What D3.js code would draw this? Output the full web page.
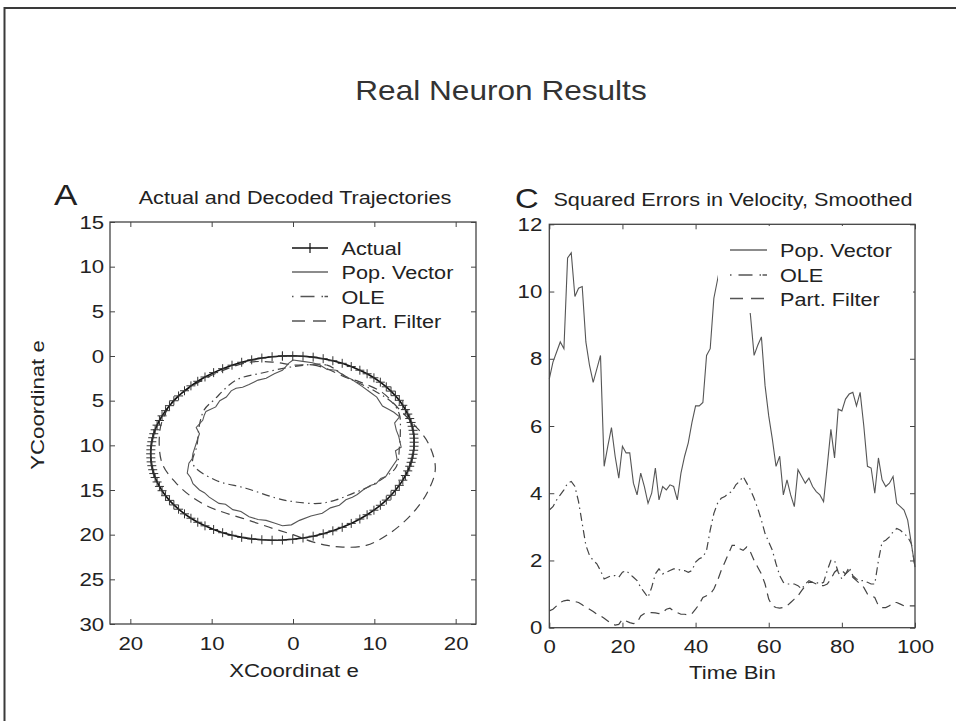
<!DOCTYPE html>
<html><head><meta charset="utf-8">
<script src="https://cdn.jsdelivr.net/npm/d3@7"></script>
<style>
body{margin:0;background:#fff}
svg{display:block}
text{font-family:"Liberation Sans",Arial,Helvetica,sans-serif;fill:#222}
</style>
</head><body>
<svg id="chart" width="956" height="721"></svg>
<script>
// ---------- DATA ----------
// Panel A: trajectories (x, y) — y axis runs downward from -15 to 30
const actualX = [-1.3,-0.03,1.23,2.48,3.71,4.90,6.05,7.16,8.22,9.11,9.95,10.74,11.47,12.05,12.59,13.07,13.50,13.82,14.11,14.35,14.52,14.65,14.76,14.84,14.88,
  14.9,14.88,14.84,14.76,14.65,14.52,14.35,14.11,13.82,13.50,13.07,12.59,12.05,11.47,10.74,9.95,9.11,8.22,7.16,6.05,4.90,3.71,2.48,1.23,-0.03,
  -1.3,-2.57,-3.83,-5.08,-6.31,-7.50,-8.65,-9.76,-10.82,-11.71,-12.55,-13.34,-14.07,-14.65,-15.19,-15.67,-16.10,-16.42,-16.71,-16.95,-17.12,-17.25,-17.36,-17.44,-17.48,
  -17.5,-17.48,-17.44,-17.36,-17.25,-17.12,-16.95,-16.71,-16.42,-16.10,-15.67,-15.19,-14.65,-14.07,-13.34,-12.55,-11.71,-10.82,-9.76,-8.65,-7.50,-6.31,-5.08,-3.83,-2.57,-1.3];
const actualY = [0.0,-0.02,0.03,0.13,0.30,0.53,0.82,1.18,1.59,1.99,2.44,2.93,3.45,3.93,4.44,4.96,5.52,6.00,6.50,7.00,7.44,7.87,8.32,8.75,9.20,
  9.65,10.10,10.55,11.00,11.45,11.90,12.34,12.86,13.38,13.90,14.48,15.04,15.59,16.13,16.71,17.26,17.77,18.25,18.74,19.18,19.57,19.90,20.17,20.37,20.52,
  20.6,20.62,20.57,20.47,20.30,20.07,19.78,19.42,19.01,18.61,18.16,17.67,17.15,16.67,16.16,15.64,15.08,14.60,14.10,13.60,13.16,12.73,12.28,11.85,11.40,
  10.95,10.50,10.05,9.60,9.15,8.70,8.26,7.74,7.22,6.70,6.12,5.56,5.01,4.47,3.89,3.34,2.83,2.35,1.86,1.42,1.03,0.70,0.43,0.23,0.08,0.0];

const popVecX = [0.0,1.2,2.4,3.3,4.2,5.3,6.4,7.2,8.5,9.4,10.3,11.0,11.8,12.4,13.1,12.5,12.7,13.0,13.3,12.6,12.8,12.2,11.9,11.4,10.8,10.2,9.5,8.6,7.9,7.3,6.5,5.7,4.6,3.6,2.2,0.8,-0.2,-1.3,-2.3,-3.3,-4.3,-5.4,-6.4,-7.4,-8.3,-9.1,-10.3,-10.9,-11.5,-12.3,-12.6,-13.0,-12.8,-12.4,-12.3,-11.9,-11.7,-11.5,-11.9,-11.1,-10.9,-10.7,-9.5,-9.0,-8.2,-7.6,-7.0,-6.2,-5.4,-4.3,-3.3,-2.3,-1.3,-0.5,0.0];
const popVecY = [0.45,0.6,0.75,1.0,1.5,1.6,2.3,2.6,3.4,4.0,4.6,5.6,6.0,6.3,6.8,7.5,8.3,9.0,10.2,10.6,11.6,12.4,12.8,13.5,13.7,14.3,14.5,15.0,15.5,15.8,16.1,16.7,17.0,17.6,17.9,18.4,18.9,19.0,18.7,18.4,18.3,18.0,17.4,17.2,16.6,16.5,15.8,15.3,15.0,14.3,13.6,13.1,12.0,11.5,10.9,9.8,9.2,8.7,8.0,7.2,6.6,6.2,5.7,5.0,4.6,3.9,3.6,3.5,3.2,2.7,2.5,2.0,1.6,0.8,0.45];

const oleX = [0.0,4.1,6.5,10.2,12.3,13.1,13.2,13.1,12.7,11.4,9.4,7.3,5.3,3.2,0.0,-2.1,-5.8,-9.5,-12.3,-11.8,-11.5,-10.9,-9.7,-7.0,-3.8];
const oleY = [1.2,1.0,2.3,4.0,5.3,6.6,8.3,10.0,12.4,13.5,14.6,15.4,16.1,16.5,16.3,15.9,14.8,13.9,12.1,10.0,7.7,6.0,4.9,2.7,1.9];

const pfX = [0.0,2.4,4.1,6.5,8.2,11.0,13.1,14.9,16.6,17.5,16.5,14.5,11.8,9.0,6.1,4.2,2.4,0.0,-2.5,-5.4,-8.2,-10.3,-12.4,-14.4,-16.1,-16.4,-15.8,-14.6,-12.1,-9.1,-5.4,-2.3];
const pfY = [1.0,1.0,1.4,2.4,2.9,4.1,6.0,7.7,9.7,12.6,15.3,17.8,19.9,21.2,21.4,21.2,20.8,20.0,19.3,18.4,17.6,16.9,15.8,14.2,12.0,8.6,6.6,4.9,3.2,1.8,0.7,0.7];

const xTicksA = [-20,-10,0,10,20];
const yTicksA = [-15,-10,-5,0,5,10,15,20,25,30];
const legendA = ["Actual","Pop. Vector","OLE","Part. Filter"];

// Panel C: squared errors per time bin 0..100
const popVecErr = [7.4,7.9,8.2,8.5,8.3,11.0,11.15,9.85,10.1,10.15,8.5,7.8,7.3,7.7,8.1,4.8,5.4,5.95,5.1,4.45,
  5.4,5.2,5.2,4.3,3.95,4.6,4.2,3.7,4.0,4.75,3.8,4.2,4.1,4.25,4.2,3.8,4.6,5.1,5.5,6.1,
  6.6,6.6,6.7,8.1,8.3,9.8,10.35,10.9,11.3,11.6,11.8,11.7,11.3,10.8,10.2,9.3,8.1,8.4,8.65,7.2,
  6.3,5.6,4.8,5.1,3.95,4.4,3.95,3.6,4.7,4.5,4.3,4.45,4.2,4.05,3.95,3.75,4.8,5.9,5.05,6.5,
  6.45,6.8,6.95,7.0,6.6,7.0,6.0,4.8,4.75,4.0,5.05,4.4,4.2,4.3,4.5,3.7,3.6,3.5,3.2,2.5,1.8];
const oleErr = [3.5,3.6,3.8,3.95,4.1,4.3,4.35,4.2,3.75,3.1,2.45,2.15,2.0,1.9,1.7,1.45,1.5,1.55,1.55,1.5,
  1.65,1.7,1.6,1.5,1.4,1.2,1.05,0.9,1.2,1.6,1.75,1.6,1.65,1.7,1.75,1.75,1.7,1.7,1.65,1.7,
  1.95,2.05,2.1,2.3,2.9,3.4,3.7,3.85,3.9,4.0,4.05,4.25,4.35,4.5,4.3,4.1,3.85,3.55,3.2,2.8,
  2.55,2.3,1.9,1.55,1.35,1.3,1.3,1.3,1.25,1.15,1.3,1.4,1.35,1.35,1.3,1.35,1.7,2.0,2.0,1.65,
  1.45,1.6,1.8,1.55,1.45,1.4,1.4,1.35,1.3,1.3,2.0,2.55,2.6,2.7,2.85,2.95,2.9,2.8,2.7,2.5,1.8];
const pfErr = [0.5,0.55,0.65,0.75,0.8,0.82,0.8,0.78,0.75,0.68,0.6,0.55,0.48,0.4,0.35,0.28,0.2,0.12,0.08,0.1,
  0.25,0.2,0.15,0.12,0.15,0.35,0.42,0.45,0.45,0.44,0.42,0.45,0.55,0.58,0.5,0.45,0.4,0.4,0.38,0.42,
  0.55,0.7,0.9,0.95,1.0,1.15,1.4,1.7,1.95,2.2,2.45,2.45,2.35,2.3,2.4,2.25,2.0,1.8,1.6,1.3,
  0.85,0.65,0.6,0.58,0.6,0.65,0.75,0.85,0.95,1.1,1.25,1.35,1.35,1.3,1.25,1.25,1.3,1.45,1.65,1.75,
  1.7,1.6,1.7,1.5,1.4,1.3,1.2,1.0,0.95,0.9,0.65,0.6,0.6,0.65,0.75,0.75,0.7,0.65,0.65,0.65,0.65];
const xTicksC = [0,20,40,60,80,100];
const yTicksC = [0,2,4,6,8,10,12];
const legendC = ["Pop. Vector","OLE","Part. Filter"];

// ---------- DRAW ----------
const svg = d3.select("#chart");
const SX = 1.17; // horizontal text stretch of the original figure
const INK = "#222", AX = "#444";
const DASH_OLE = "8,4,1.5,4", DASH_PF = "9,6";

function txt(x, y, s, size, anchor, rot) {
  return svg.append("text")
    .attr("transform", `translate(${x},${y})` + (rot ? ` rotate(${rot})` : "") + ` scale(${SX},1)`)
    .attr("text-anchor", anchor || "start")
    .style("font-size", size + "px")
    .text(s);
}

// outer frame (top and left edges only)
svg.append("path").attr("d", "M4.5,721V8H956").attr("fill", "none").attr("stroke", "#3a3a3a").attr("stroke-width", 2);

txt(501, 100, "Real Neuron Results", 27, "middle").style("fill", "#333");

function styleAxis(g) {
  g.select(".domain").remove();
  g.selectAll("line").attr("stroke", AX);
  g.selectAll("text").attr("transform", `scale(${SX},1)`).style("font-size", "19px")
    .style("font-family", '"Liberation Sans",Arial,sans-serif').attr("fill", INK);
}

// ===== Panel A =====
const xA = d3.scaleLinear().domain([-22.5, 22.5]).range([110, 476]);
const yA = d3.scaleLinear().domain([-15, 30]).range([222, 624]);
const fmtAbs = d => Math.abs(d);

svg.append("g").attr("transform", `translate(0,${yA.range()[1]})`)
  .call(d3.axisBottom(xA).tickValues(xTicksA).tickFormat(fmtAbs).tickSizeInner(-5).tickSizeOuter(0).tickPadding(13)).call(styleAxis);
svg.append("g").attr("transform", `translate(0,${yA.range()[0]})`)
  .call(d3.axisTop(xA).tickValues(xTicksA).tickFormat("").tickSizeInner(-5).tickSizeOuter(0)).call(styleAxis);
svg.append("g").attr("transform", `translate(${xA.range()[0]},0)`)
  .call(d3.axisLeft(yA).tickValues(yTicksA).tickFormat(fmtAbs).tickSizeInner(-5).tickSizeOuter(0).tickPadding(5)).call(styleAxis);
svg.append("g").attr("transform", `translate(${xA.range()[1]},0)`)
  .call(d3.axisRight(yA).tickValues(yTicksA).tickFormat("").tickSizeInner(-5).tickSizeOuter(0)).call(styleAxis);
svg.append("rect").attr("x", xA.range()[0]).attr("y", yA.range()[0])
  .attr("width", xA.range()[1] - xA.range()[0]).attr("height", yA.range()[1] - yA.range()[0])
  .attr("fill", "none").attr("stroke", AX).attr("stroke-width", 1.3);

const lineA = d3.line().x(d => xA(d[0])).y(d => yA(d[1]));
const zip = (a, b) => a.map((v, i) => [v, b[i]]);

const gA = svg.append("g");
gA.append("path").datum(zip(pfX, pfY))
  .attr("d", d3.line().x(d => xA(d[0])).y(d => yA(d[1])).curve(d3.curveCatmullRomClosed))
  .attr("fill", "none").attr("stroke", "#444").attr("stroke-width", 1.2).attr("stroke-dasharray", DASH_PF);
gA.append("path").datum(zip(oleX, oleY))
  .attr("d", d3.line().x(d => xA(d[0])).y(d => yA(d[1])).curve(d3.curveCatmullRomClosed))
  .attr("fill", "none").attr("stroke", "#444").attr("stroke-width", 1.2).attr("stroke-dasharray", DASH_OLE);
gA.append("path").datum(zip(popVecX, popVecY)).attr("d", lineA)
  .attr("fill", "none").attr("stroke", "#555").attr("stroke-width", 1.1);
const actPts = zip(actualX, actualY);
gA.append("path").datum(actPts).attr("d", lineA)
  .attr("fill", "none").attr("stroke", "#111").attr("stroke-width", 1.6);
gA.selectAll("path.mk").data(actPts).join("path").attr("class", "mk")
  .attr("d", d => { const x = xA(d[0]), y = yA(d[1]); return `M${x-4.5},${y}H${x+4.5}M${x},${y-4.5}V${y+4.5}`; })
  .attr("stroke", "#333").attr("stroke-width", 1);

// legend A
const legA = svg.append("g");
legA.append("rect").attr("x", 286).attr("y", 236).attr("width", 180).attr("height", 96).attr("fill", "#fff");
const legAy = [248, 272, 296.5, 321];
legendA.forEach((name, i) => {
  const y = legAy[i];
  const ln = legA.append("line").attr("x1", 292).attr("x2", 328).attr("y1", y).attr("y2", y).attr("fill", "none");
  if (i === 0) {
    ln.attr("stroke", "#111").attr("stroke-width", 1.4);
    legA.append("path").attr("d", `M310,${y-5}V${y+5}`).attr("stroke", "#111").attr("stroke-width", 1.2);
  } else if (i === 1) ln.attr("stroke", "#666").attr("stroke-width", 1.4);
  else if (i === 2) ln.attr("stroke", "#555").attr("stroke-width", 1.4).attr("stroke-dasharray", "1.5,7,14,7,1.5");
  else ln.attr("stroke", "#555").attr("stroke-width", 1.4).attr("stroke-dasharray", "13,8");
  txt(341.5, y + 7, name, 18.5, "start");
});

txt(54, 205, "A", 30, "start");
txt(295, 204, "Actual and Decoded Trajectories", 18.5, "middle");
txt(294, 677, "XCoordinat e", 19, "middle");
txt(44, 405, "YCoordinat e", 19, "middle", -90);

// ===== Panel C =====
const xC = d3.scaleLinear().domain([0, 100]).range([549.3, 915]);
const yC = d3.scaleLinear().domain([0, 12]).range([627.7, 224.3]);

svg.append("g").attr("transform", `translate(0,${yC.range()[0]})`)
  .call(d3.axisBottom(xC).tickValues(xTicksC).tickSizeInner(-5).tickSizeOuter(0).tickPadding(12)).call(styleAxis);
svg.append("g").attr("transform", `translate(0,${yC.range()[1]})`)
  .call(d3.axisTop(xC).tickValues(xTicksC).tickFormat("").tickSizeInner(-5).tickSizeOuter(0)).call(styleAxis);
svg.append("g").attr("transform", `translate(${xC.range()[0]},0)`)
  .call(d3.axisLeft(yC).tickValues(yTicksC).tickSizeInner(-5).tickSizeOuter(0).tickPadding(6)).call(styleAxis);
svg.append("g").attr("transform", `translate(${xC.range()[1]},0)`)
  .call(d3.axisRight(yC).tickValues(yTicksC).tickFormat("").tickSizeInner(-5).tickSizeOuter(0)).call(styleAxis);

const lineC = d3.line().x((d, i) => xC(i)).y(d => yC(d));
const gC = svg.append("g");
gC.append("path").datum(pfErr).attr("d", lineC).attr("fill", "none")
  .attr("stroke", "#444").attr("stroke-width", 1.2).attr("stroke-dasharray", DASH_PF);
gC.append("path").datum(oleErr).attr("d", lineC).attr("fill", "none")
  .attr("stroke", "#444").attr("stroke-width", 1.2).attr("stroke-dasharray", DASH_OLE);
gC.append("path").datum(popVecErr).attr("d", lineC).attr("fill", "none")
  .attr("stroke", "#555").attr("stroke-width", 1.1);

// legend C (its white box hides the peak of the Pop. Vector curve, as in the original)
const legC = svg.append("g");
legC.append("rect").attr("x", 718).attr("y", 226).attr("width", 195).attr("height", 87).attr("fill", "#fff");
const legCy = [250, 275, 298.5];
legendC.forEach((name, i) => {
  const y = legCy[i];
  const ln = legC.append("line").attr("x1", 730).attr("x2", 767).attr("y1", y).attr("y2", y).attr("fill", "none").attr("stroke-width", 1.4);
  if (i === 0) ln.attr("stroke", "#666");
  else if (i === 1) ln.attr("stroke", "#555").attr("stroke-dasharray", "1.5,7,14,7,1.5");
  else ln.attr("stroke", "#555").attr("stroke-dasharray", "13,8");
  txt(780, y + 7, name, 18.5, "start");
});

svg.append("rect").attr("x", xC.range()[0]).attr("y", yC.range()[1])
  .attr("width", xC.range()[1] - xC.range()[0]).attr("height", yC.range()[0] - yC.range()[1])
  .attr("fill", "none").attr("stroke", AX).attr("stroke-width", 1.3);

txt(515, 208, "C", 28, "start");
txt(733, 206, "Squared Errors in Velocity, Smoothed", 18.5, "middle");
txt(732.5, 679, "Time Bin", 19, "middle");
</script>
</body></html>
